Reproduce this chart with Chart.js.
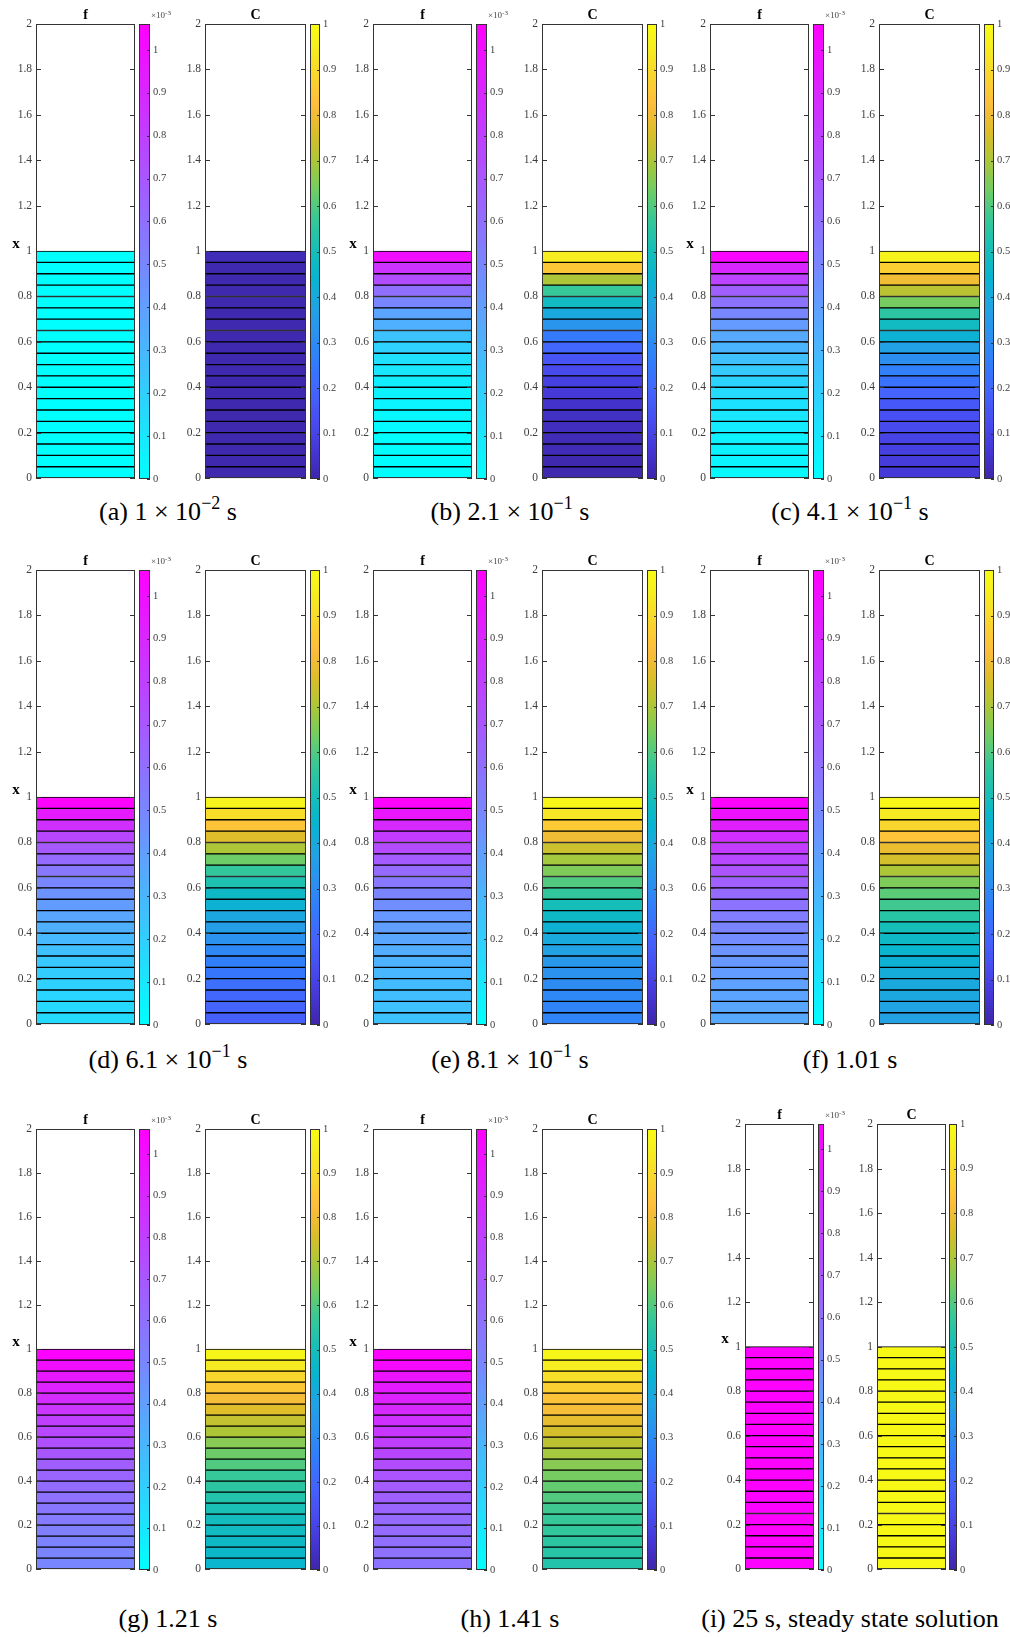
<!DOCTYPE html>
<html>
<head>
<meta charset="utf-8">
<script src="https://cdn.jsdelivr.net/npm/chart.js@4.4.1/dist/chart.umd.min.js"></script>
<style>
  body { margin: 0; background: #fff; width: 1010px; height: 1637px; position: relative; overflow: hidden; font-family: 'Liberation Serif', serif; }
  canvas { position: absolute; }
  .cap { position: absolute; width: 360px; text-align: center; font-family: 'Liberation Serif', serif; font-size: 26px; line-height: 30px; color: #000; white-space: nowrap; }
  .cap sup { font-size: 18px; line-height: 0; vertical-align: 11px; }
  .exp { position: absolute; font-size: 9px; line-height: 10px; color: #444; white-space: nowrap; }
  .exp sup { font-size: 7px; line-height: 0; vertical-align: 3px; }
</style>
</head>
<body>
<script>
// mesh: 20 cells on 0..1, domain shown 0..2
const cellEdges = [0, 0.05, 0.1, 0.15, 0.2, 0.25, 0.3, 0.35, 0.4, 0.45, 0.5, 0.55, 0.6, 0.65, 0.7, 0.75, 0.8, 0.85, 0.9, 0.95, 1];
const xTicks = [0, 0.2, 0.4, 0.6, 0.8, 1, 1.2, 1.4, 1.6, 1.8, 2];
const barTicks = [0, 0.1, 0.2, 0.3, 0.4, 0.5, 0.6, 0.7, 0.8, 0.9, 1];
const fTop = 1.06;   // f colorbar top (x1e-3)
const cTop = 1;

// cell values, bottom (x=0) to top (x=1); f in units of 1e-3
const fA = [0, 0, 0, 0, 0, 0, 0, 0, 0, 0, 0, 0, 0, 0, 0, 0, 0, 0, 0, 0];
const cA = [0.01, 0.01, 0.01, 0.01, 0.01, 0.01, 0.01, 0.01, 0.01, 0.01, 0.01, 0.01, 0.01, 0.01, 0.01, 0.01, 0.01, 0.01, 0.01, 0.02];
const fB = [0.01, 0.01, 0.01, 0.01, 0.02, 0.03, 0.04, 0.05, 0.07, 0.10, 0.13, 0.19, 0.25, 0.33, 0.38, 0.50, 0.60, 0.74, 0.85, 1.00];
const cB = [0.01, 0.01, 0.02, 0.02, 0.03, 0.04, 0.05, 0.07, 0.09, 0.12, 0.15, 0.20, 0.25, 0.33, 0.40, 0.48, 0.57, 0.70, 0.85, 0.95];
const fC = [0.03, 0.04, 0.05, 0.06, 0.08, 0.10, 0.12, 0.15, 0.18, 0.22, 0.26, 0.31, 0.36, 0.42, 0.50, 0.58, 0.67, 0.78, 0.90, 1.04];
const cC = [0.07, 0.08, 0.09, 0.10, 0.12, 0.14, 0.16, 0.19, 0.23, 0.27, 0.31, 0.37, 0.43, 0.48, 0.55, 0.64, 0.72, 0.80, 0.87, 0.97];
const fD = [0.15, 0.16, 0.17, 0.19, 0.21, 0.23, 0.26, 0.29, 0.33, 0.37, 0.41, 0.45, 0.50, 0.56, 0.62, 0.69, 0.77, 0.86, 0.95, 1.05];
const cD = [0.18, 0.19, 0.20, 0.22, 0.24, 0.26, 0.29, 0.32, 0.36, 0.39, 0.43, 0.47, 0.52, 0.56, 0.63, 0.70, 0.77, 0.84, 0.91, 0.97];
const fE = [0.25, 0.26, 0.27, 0.28, 0.30, 0.32, 0.34, 0.37, 0.40, 0.43, 0.47, 0.51, 0.56, 0.62, 0.68, 0.75, 0.82, 0.89, 0.97, 1.05];
const cE = [0.28, 0.28, 0.29, 0.30, 0.32, 0.34, 0.37, 0.40, 0.43, 0.47, 0.50, 0.56, 0.60, 0.65, 0.69, 0.74, 0.80, 0.86, 0.93, 0.98];
const fF = [0.36, 0.37, 0.38, 0.39, 0.41, 0.43, 0.45, 0.48, 0.51, 0.54, 0.58, 0.62, 0.66, 0.71, 0.76, 0.81, 0.87, 0.93, 0.99, 1.05];
const cF = [0.37, 0.38, 0.39, 0.40, 0.41, 0.43, 0.45, 0.47, 0.50, 0.54, 0.58, 0.61, 0.65, 0.70, 0.75, 0.79, 0.84, 0.89, 0.94, 0.98];
const fG = [0.50, 0.51, 0.52, 0.53, 0.55, 0.57, 0.59, 0.61, 0.64, 0.67, 0.70, 0.73, 0.76, 0.80, 0.84, 0.88, 0.92, 0.96, 1.00, 1.05];
const cG = [0.45, 0.46, 0.47, 0.48, 0.49, 0.51, 0.53, 0.55, 0.57, 0.60, 0.63, 0.66, 0.70, 0.73, 0.77, 0.81, 0.85, 0.89, 0.94, 0.98];
const fH = [0.58, 0.59, 0.60, 0.61, 0.62, 0.64, 0.66, 0.68, 0.71, 0.74, 0.77, 0.80, 0.83, 0.86, 0.89, 0.92, 0.95, 0.98, 1.02, 1.05];
const cH = [0.53, 0.54, 0.55, 0.56, 0.57, 0.58, 0.60, 0.62, 0.64, 0.66, 0.69, 0.72, 0.75, 0.78, 0.81, 0.84, 0.87, 0.91, 0.95, 0.98];
const fI = [1.05, 1.05, 1.05, 1.05, 1.05, 1.05, 1.05, 1.05, 1.05, 1.05, 1.05, 1.05, 1.05, 1.05, 1.05, 1.05, 1.05, 1.05, 1.05, 1.05];
const cI = [0.99, 0.99, 0.99, 0.99, 0.99, 0.99, 0.99, 0.99, 0.99, 0.99, 0.99, 0.99, 0.99, 0.99, 0.99, 0.99, 0.99, 0.99, 0.99, 0.99];

const captions = [
  '(a) 1 × 10<sup>−2</sup> s', '(b) 2.1 × 10<sup>−1</sup> s', '(c) 4.1 × 10<sup>−1</sup> s',
  '(d) 6.1 × 10<sup>−1</sup> s', '(e) 8.1 × 10<sup>−1</sup> s', '(f) 1.01 s',
  '(g) 1.21 s', '(h) 1.41 s', '(i) 25 s, steady state solution'
];
const fSets = [fA, fB, fC, fD, fE, fF, fG, fH, fI];
const cSets = [cA, cB, cC, cD, cE, cF, cG, cH, cI];

// colormaps (MATLAB cool / parula)
const parulaStops = [
  [0, 0.2422, 0.1504, 0.6603], [4, 0.2706, 0.2147, 0.8364], [8, 0.2813, 0.3006, 0.9414],
  [12, 0.2699, 0.3892, 0.9906], [16, 0.1963, 0.4847, 0.9892], [20, 0.1687, 0.5703, 0.9359],
  [24, 0.1248, 0.6459, 0.8883], [28, 0.0297, 0.7082, 0.8163], [32, 0.0964, 0.7500, 0.7120],
  [36, 0.2161, 0.7843, 0.5923], [40, 0.4456, 0.8024, 0.3909], [44, 0.6720, 0.7793, 0.2227],
  [48, 0.8634, 0.7406, 0.1596], [52, 0.9956, 0.7434, 0.2371], [56, 0.9786, 0.8386, 0.1766],
  [60, 0.9628, 0.9373, 0.1265], [63, 0.9769, 0.9839, 0.0805]
];
function clamp01(t) { return Math.max(0, Math.min(1, t)); }
function cool(t) {
  t = clamp01(t);
  return `rgb(${Math.round(255 * t)},${Math.round(255 * (1 - t))},255)`;
}
function parula(t) {
  const p = clamp01(t) * 63;
  let i = 0;
  while (i < parulaStops.length - 2 && parulaStops[i + 1][0] < p) i++;
  const a = parulaStops[i], b = parulaStops[i + 1];
  const k = (p - a[0]) / (b[0] - a[0]);
  const c = [1, 2, 3].map(j => Math.round(255 * (a[j] + (b[j] - a[j]) * k)));
  return `rgb(${c[0]},${c[1]},${c[2]})`;
}

// layout
const colX = [0, 337, 674];
const capX = [168, 510, 850];
const rows = [{ top: 24, bot: 479, cap: 512 }, { top: 570, bot: 1025, cap: 1060 }, { top: 1129, bot: 1570, cap: 1619 }];
const std = { fL: 36, fR: 135, fbL: 139, fbR: 150, cL: 205, cR: 306, cbL: 310, cbR: 320 };
const lastPanel = { fL: 745, fR: 814, fbL: 818, fbR: 824, cL: 877, cR: 946, cbL: 949, cbR: 957, top: 1124, bot: 1570 };
const PT = 22, PB = 10;
const tickFont = { family: 'Liberation Serif', size: 11.5 };
const barFont = { family: 'Liberation Serif', size: 10.5 };

const axesDecor = {
  id: 'axesDecor',
  afterDraw(chart, args, opts) {
    const { ctx, chartArea: a } = chart;
    const ys = chart.scales.y;
    ctx.save();
    ctx.strokeStyle = '#333';
    ctx.lineWidth = 1;
    ctx.strokeRect(a.left + 0.5, a.top + 0.5, a.right - a.left - 1, a.bottom - a.top - 1);
    ctx.beginPath();
    ys.ticks.forEach(t => {
      const py = Math.round(ys.getPixelForValue(t.value)) + 0.5;
      if (opts.left) { ctx.moveTo(a.left, py); ctx.lineTo(a.left + opts.len, py); }
      if (opts.right) { ctx.moveTo(a.right - opts.len, py); ctx.lineTo(a.right, py); }
    });
    ctx.stroke();
    ctx.fillStyle = '#000';
    ctx.textAlign = 'center';
    ctx.textBaseline = 'middle';
    if (opts.title) {
      ctx.font = 'bold 14px "Liberation Serif"';
      ctx.fillText(opts.title, (a.left + a.right) / 2, a.top - 9);
    }
    if (opts.ylabel) {
      ctx.font = 'bold 15px "Liberation Serif"';
      ctx.fillText(opts.ylabel, a.left - 20, (a.top + a.bottom) / 2 - 7);
    }
    ctx.restore();
  }
};

function addCanvas(left, top, w, h) {
  const cv = document.createElement('canvas');
  cv.width = w; cv.height = h;
  cv.style.left = left + 'px'; cv.style.top = top + 'px';
  document.body.appendChild(cv);
  return cv;
}

function makeAxes(L, R, top, bot, values, cmap, vmax, title, ylabel) {
  const cv = addCanvas(L - 45, top - PT, (R - L) + 51, (bot - top) + PT + PB);
  const datasets = values.map((v, i) => ({
    data: [[cellEdges[i], cellEdges[i + 1]]],
    backgroundColor: cmap(v / vmax),
    borderColor: '#000',
    borderWidth: { top: 1, bottom: 1, left: 0, right: 0 },
    borderSkipped: false,
    grouped: false,
    categoryPercentage: 1,
    barPercentage: 1
  }));
  new Chart(cv, {
    type: 'bar',
    data: { labels: [''], datasets },
    options: {
      responsive: false, animation: false, events: [],
      layout: { padding: { left: 5, top: PT, right: 6, bottom: PB } },
      plugins: { legend: { display: false }, tooltip: { enabled: false },
        axesDecor: { left: true, right: true, len: 5, title, ylabel } },
      scales: {
        x: { display: false },
        y: {
          min: 0, max: 2,
          afterFit: s => { s.width = 40; },
          afterBuildTicks: s => { s.ticks = xTicks.map(v => ({ value: v })); },
          grid: { display: false, drawTicks: false },
          border: { display: false },
          ticks: { padding: 4, color: '#3c3c3c', font: tickFont, callback: v => String(v) }
        }
      }
    },
    plugins: [axesDecor]
  });
}

function makeBar(L, R, top, bot, cmap, vmax) {
  const cv = addCanvas(L - 1, top - PT, (R - L) + 35, (bot - top) + PT + PB);
  new Chart(cv, {
    type: 'bar',
    data: { labels: [''], datasets: [{
      data: [[0, vmax]],
      backgroundColor: ctx => {
        const ch = ctx.chart;
        if (!ch.chartArea) return null;
        const ys = ch.scales.y;
        const g = ch.ctx.createLinearGradient(0, ys.getPixelForValue(0), 0, ys.getPixelForValue(vmax));
        for (let i = 0; i <= 64; i++) g.addColorStop(i / 64, cmap(i / 64));
        return g;
      },
      borderWidth: 0,
      categoryPercentage: 1, barPercentage: 1
    }] },
    options: {
      responsive: false, animation: false, events: [],
      layout: { padding: { left: 1, top: PT, right: 0, bottom: PB } },
      plugins: { legend: { display: false }, tooltip: { enabled: false },
        axesDecor: { left: false, right: true, len: 3 } },
      scales: {
        x: { display: false },
        y: {
          position: 'right', min: 0, max: vmax,
          afterFit: s => { s.width = 34; },
          afterBuildTicks: s => { s.ticks = barTicks.map(v => ({ value: v })); },
          grid: { display: false, drawTicks: false },
          border: { display: false },
          ticks: { padding: 3, color: '#3c3c3c', font: barFont, callback: v => String(v) }
        }
      }
    },
    plugins: [axesDecor]
  });
}

for (let p = 0; p < 9; p++) {
  const col = p % 3, row = Math.floor(p / 3);
  let g;
  if (p === 8) {
    g = lastPanel;
  } else {
    const ox = colX[col];
    g = { fL: std.fL + ox, fR: std.fR + ox, fbL: std.fbL + ox, fbR: std.fbR + ox,
          cL: std.cL + ox, cR: std.cR + ox, cbL: std.cbL + ox, cbR: std.cbR + ox,
          top: rows[row].top, bot: rows[row].bot };
  }
  makeAxes(g.fL, g.fR, g.top, g.bot, fSets[p], cool, fTop, 'f', 'x');
  makeBar(g.fbL, g.fbR, g.top, g.bot, cool, fTop);
  makeAxes(g.cL, g.cR, g.top, g.bot, cSets[p], parula, cTop, 'C', '');
  makeBar(g.cbL, g.cbR, g.top, g.bot, parula, cTop);

  const ex = document.createElement('div');
  ex.className = 'exp';
  ex.innerHTML = '×10<sup>-3</sup>';
  ex.style.left = (g.fbR + 1) + 'px';
  ex.style.top = (g.top - 14) + 'px';
  document.body.appendChild(ex);

  const cap = document.createElement('div');
  cap.className = 'cap';
  cap.innerHTML = captions[p];
  cap.style.left = (capX[col] - 180) + 'px';
  cap.style.top = (rows[row].cap - 15) + 'px';
  document.body.appendChild(cap);
}
</script>
</body>
</html>
